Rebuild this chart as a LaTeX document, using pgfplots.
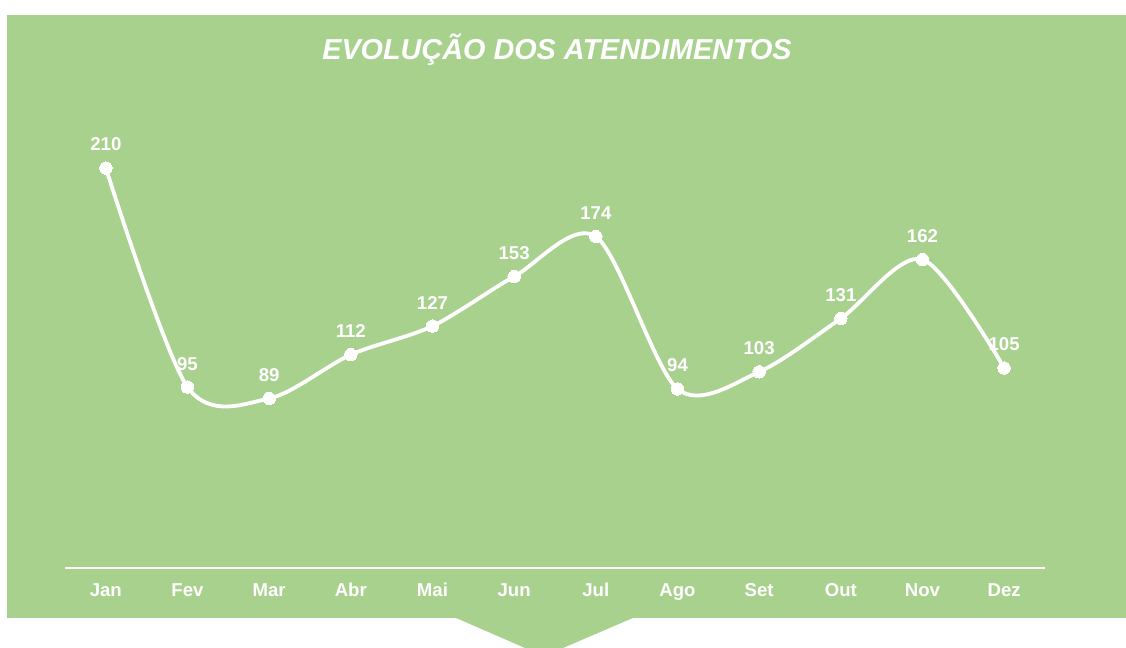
\documentclass[border=0pt]{standalone}
\usepackage{fontspec}
\setmainfont{Liberation Sans}
\usepackage{pgfplots}
\pgfplotsset{compat=1.18}
\definecolor{bggreen}{RGB}{169,209,142}
\begin{document}
\begin{tikzpicture}[x=0.5pt,y=0.5pt]
\fill[white] (0,0) rectangle (1126,648);
\fill[bggreen] (7,30) rectangle (1126,633);
\fill[bggreen] (455,30.5) -- (634,30.5) -- (563,0) -- (525,0) -- cycle;
\node[text=white, font=\fontsize{14.4}{16}\selectfont\bfseries\itshape, anchor=base] at (557,588) {EVOLUÇÃO DOS ATENDIMENTOS};
\begin{axis}[
  at={(32.5pt,40pt)}, anchor=south west,
  scale only axis,
  width=490pt, height=238.1pt,
  xmin=-0.5, xmax=11.5, ymin=0, ymax=250,
  axis x line=bottom, axis y line=none,
  x axis line style={white, line width=0.75pt, -},
  xtick={0,...,11},
  xticklabels={Jan,Fev,Mar,Abr,Mai,Jun,Jul,Ago,Set,Out,Nov,Dez},
  major tick length=0pt,
  xticklabel style={text=white, font=\fontsize{9.3}{10}\selectfont\bfseries, anchor=base, yshift=-14.5pt},
  ytick=\empty,
  clip=false,
  /pgf/number format/assume math mode=true,
  nodes near coords,
  every node near coord/.append style={text=white, font=\fontsize{9.3}{10}\selectfont\bfseries, anchor=base, yshift=8.5pt, inner sep=0pt},
]
\addplot[white, line width=1.9pt, smooth, mark=*, mark size=3.1pt, mark options={fill=white, draw=white, line width=0pt, solid}]
 coordinates {(0,210) (1,95) (2,89) (3,112) (4,127) (5,153) (6,174) (7,94) (8,103) (9,131) (10,162) (11,105)};
\end{axis}
\end{tikzpicture}
\end{document}
